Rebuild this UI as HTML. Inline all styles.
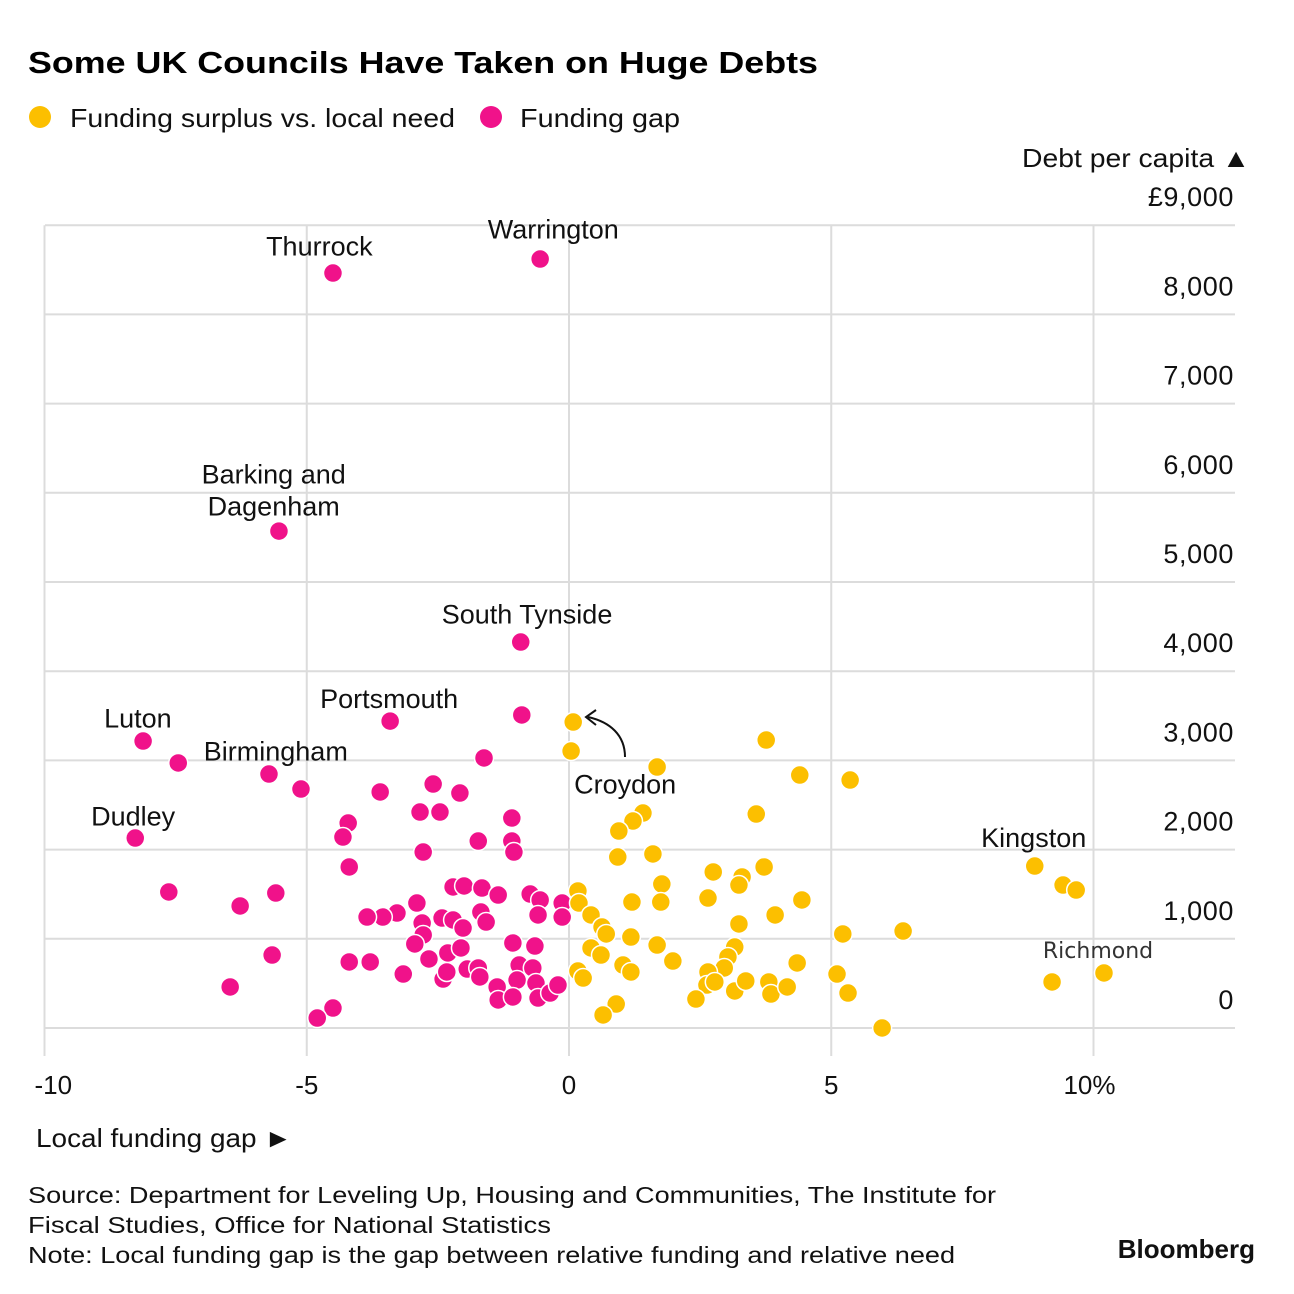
<!DOCTYPE html>
<html><head><meta charset="utf-8"><style>
body{margin:0;background:#fff;}
svg{display:block;font-family:"Liberation Sans",Arial,sans-serif;}
</style></head><body>
<svg id="chart" width="1294" height="1294" viewBox="0 0 1294 1294">
<text x="28" y="73" font-size="31" font-weight="bold" fill="#000" textLength="790" lengthAdjust="spacingAndGlyphs">Some UK Councils Have Taken on Huge Debts</text>
<g>
<circle cx="40" cy="117" r="11" fill="#fcbf00"/>
<text x="70" y="127" font-size="26" fill="#111" textLength="385" lengthAdjust="spacingAndGlyphs">Funding surplus vs. local need</text>
<circle cx="491" cy="117" r="11" fill="#f0128a"/>
<text x="520" y="127" font-size="26" fill="#111" textLength="160" lengthAdjust="spacingAndGlyphs">Funding gap</text>
</g>
<text x="1022" y="167" font-size="26" fill="#111" textLength="228" lengthAdjust="spacingAndGlyphs">Debt per capita ▲</text>
<g id="grid"></g>
<g id="dots"></g>
<g id="labels" font-size="27" fill="#111"></g>
<path d="M625,757 C625,735 610,722 588,717" fill="none" stroke="#111" stroke-width="2"/>
<path d="M596,710 L586,717 L596,725" fill="none" stroke="#111" stroke-width="2"/>
<text x="36" y="1147" font-size="26" fill="#111" textLength="256" lengthAdjust="spacingAndGlyphs">Local funding gap ►</text>
<g font-size="23.5" fill="#111">
<text x="28" y="1203" textLength="968" lengthAdjust="spacingAndGlyphs">Source: Department for Leveling Up, Housing and Communities, The Institute for</text>
<text x="28" y="1233" textLength="523" lengthAdjust="spacingAndGlyphs">Fiscal Studies, Office for National Statistics</text>
<text x="28" y="1263" textLength="927" lengthAdjust="spacingAndGlyphs">Note: Local funding gap is the gap between relative funding and relative need</text>
</g>
<text x="1255" y="1258" font-size="26" font-weight="bold" text-anchor="end" fill="#111">Bloomberg</text>
</svg>
<script>
const xTicks = [-10, -5, 0, 5, 10];
const xTickLabels = ["-10", "-5", "0", "5", "10%"];
const yTicks = [0, 1000, 2000, 3000, 4000, 5000, 6000, 7000, 8000, 9000];
const yTickLabels = ["0", "1,000", "2,000", "3,000", "4,000", "5,000", "6,000", "7,000", "8,000", "£9,000"];
const gapX = [-4.50,-0.55,-5.53,-0.92,-3.41,-0.90,-8.12,-7.45,-5.72,-5.11,-1.62,-3.60,-2.59,-2.08,-2.84,-2.46,-4.21,-4.31,-1.09,-1.73,-1.09,-1.05,-2.78,-8.27,-4.19,-7.63,-5.59,-6.27,-2.21,-2.00,-1.66,-1.35,-0.74,-0.55,-0.13,-0.13,-0.59,-1.68,-1.58,-2.90,-3.28,-3.55,-3.85,-2.42,-2.21,-2.02,-2.80,-2.78,-2.94,-1.07,-0.65,-2.31,-2.06,-2.67,-4.19,-3.79,-3.16,-0.95,-0.69,-1.94,-1.73,-1.70,-2.40,-2.33,-0.99,-0.63,-1.37,-1.35,-1.07,-0.59,-0.36,-0.21,-4.50,-4.80,-5.66,-6.46];
const gapY = [8464,8621,5571,4327,3441,3509,3217,2971,2847,2679,3027,2646,2735,2634,2421,2421,2298,2141,2354,2096,2096,1973,1973,2130,1805,1525,1513,1368,1581,1592,1569,1491,1502,1435,1401,1244,1267,1300,1188,1401,1289,1244,1244,1233,1211,1121,1177,1043,942,953,919,841,897,774,740,740,605,706,673,661,673,572,549,628,538,504,460,314,348,336,392,482,224,112,818,460];
const surX = [0.08,0.04,3.76,1.68,4.40,5.36,3.57,1.41,1.22,0.95,0.93,1.60,2.75,3.30,3.24,3.72,1.77,1.75,2.65,1.20,4.44,0.17,0.19,0.42,0.63,0.71,1.18,3.24,3.93,5.22,6.37,1.68,0.42,0.61,1.98,3.16,3.03,2.96,4.35,5.11,2.65,2.63,2.78,3.16,3.37,3.81,3.85,4.16,5.32,2.42,0.17,0.27,1.03,1.18,0.90,0.65,5.97,8.88,9.42,9.67,10.20,9.21];
const surY = [3430,3105,3228,2926,2836,2780,2399,2410,2320,2208,1917,1951,1749,1693,1603,1805,1614,1412,1457,1412,1435,1536,1401,1267,1132,1054,1020,1166,1267,1054,1087,930,897,818,751,908,796,673,729,605,628,482,516,415,527,516,381,460,392,325,639,560,706,628,269,146,0,1816,1603,1547,617,516];
const labelNames = ["Thurrock","Warrington","Barking and","Dagenham","South Tynside","Portsmouth","Luton","Birmingham","Dudley","Croydon","Kingston"];
const labelX = [-4.76,-0.30,-5.63,-5.63,-0.80,-3.43,-8.22,-5.59,-8.31,1.07,8.86];
const labelY = [8662,8852,6105,5745,4535,3585,3370,2998,2270,2628,2030];

const NS = "http://www.w3.org/2000/svg";
function sx(v){ return 569 + v * 52.45; }
function sy(v){ return 1028 - v * 0.0892; }
function mk(tag, attrs, parent){
  const el = document.createElementNS(NS, tag);
  for (const k in attrs) el.setAttribute(k, attrs[k]);
  parent.appendChild(el);
  return el;
}
const grid = document.getElementById('grid');
const dots = document.getElementById('dots');
const labels = document.getElementById('labels');

yTicks.forEach((t, i) => {
  const ln = mk('line', {x1: 45, x2: 1235, y1: sy(t), y2: sy(t), stroke: '#dcdcdc', 'stroke-width': 2}, grid);
  
  
  const tx = mk('text', {x: 1234, y: sy(t) - 19, 'font-size': 27, 'letter-spacing': 0.6, 'text-anchor': 'end', fill: '#111'}, grid);
  tx.textContent = yTickLabels[i];
  
  
});
xTicks.forEach((t, i) => {
  const ln = mk('line', {x1: sx(t), x2: sx(t), y1: sy(9000), y2: 1056, stroke: '#dcdcdc', 'stroke-width': 2}, grid);
  
  
  const anchor = i === 0 ? 'start' : (i === xTicks.length - 1 ? 'end' : 'middle');
  const off = i === 0 ? -10 : (i === xTicks.length - 1 ? 22 : 0);
  const tx = mk('text', {x: sx(t) + off, y: 1094, 'font-size': 26, 'text-anchor': anchor, fill: '#111'}, grid);
  tx.textContent = xTickLabels[i];
  
  
});
gapX.forEach((v, i) => {
  const c = mk('circle', {cx: sx(v), cy: sy(gapY[i]), r: 9.5, fill: '#f0128a', stroke: '#fff', 'stroke-width': 1.5}, dots);
  
  
});
surX.forEach((v, i) => {
  const c = mk('circle', {cx: sx(v), cy: sy(surY[i]), r: 9.5, fill: '#fcbf00', stroke: '#fff', 'stroke-width': 1.5}, dots);
  
  
});
labelNames.forEach((n, i) => {
  const tx = mk('text', {x: sx(labelX[i]), y: sy(labelY[i]), 'text-anchor': 'middle'}, labels);
  tx.textContent = n;
  
  
});
const rich = mk('text', {x: 1098, y: 958, 'text-anchor': 'middle', 'font-size': 22, fill: '#333', 'font-family': '"DejaVu Sans", sans-serif'}, labels);
rich.textContent = 'Richmond';


</script>
</body></html>
